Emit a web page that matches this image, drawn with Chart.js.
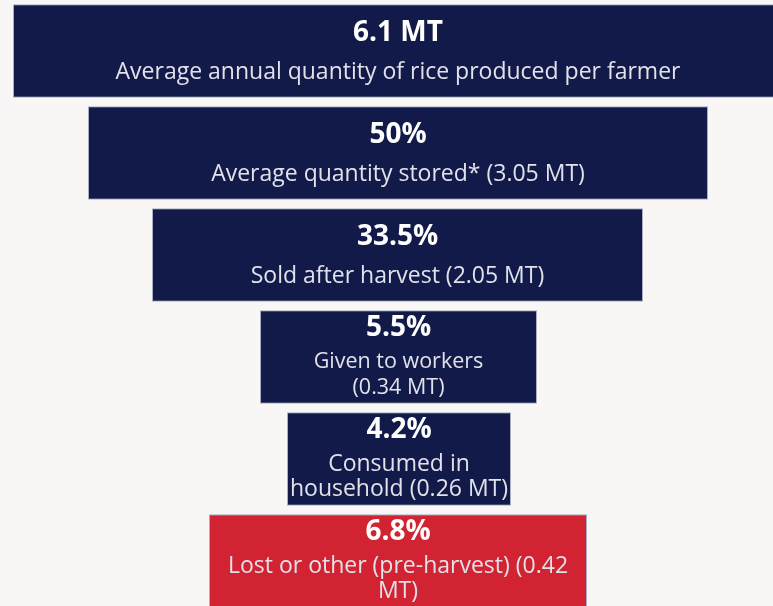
<!DOCTYPE html>
<html>
<head>
<meta charset="utf-8">
<script src="https://cdn.jsdelivr.net/npm/chart.js@4"></script>
<style>
  html, body { margin: 0; padding: 0; background: #f8f7f5; overflow: hidden; }
  #wrap { position: relative; width: 773px; height: 612px; }
</style>
</head>
<body>
<div id="wrap"><canvas id="funnelChart"></canvas></div>
<script>
// Stufen des Trichters (von oben nach unten)
const stages = ['Produced', 'Stored', 'Sold', 'Workers', 'Household', 'Lost'];
const headlines = ['6.1 MT', '50%', '33.5%', '5.5%', '4.2%', '6.8%'];
const descriptions = [
    ['Average annual quantity of rice produced per farmer'],
    ['Average quantity stored* (3.05 MT)'],
    ['Sold after harvest (2.05 MT)'],
    ['Given to workers', '(0.34 MT)'],
    ['Consumed in', 'household (0.26 MT)'],
    ['Lost or other (pre-harvest) (0.42', 'MT)']
];
// Balkenbreite links/rechts
const barStart = [13, 88, 152, 260, 287, 209];
const barEnd = [783, 708, 643, 537, 511, 587];
const barColors = ['#121a4a', '#121a4a', '#121a4a', '#121a4a', '#121a4a', '#d12331'];

// Texte in die Balken schreiben
const labelPlugin = {
    id: 'funnelLabels',
    afterDatasetsDraw(chart) {
        let ctx = chart.ctx;
        let meta = chart.getDatasetMeta(0);
        ctx.save();
        ctx.textAlign = 'center';
        ctx.textBaseline = 'middle';
        meta.data.forEach((bar, i) => {
            let cx = (bar.x + bar.base) / 2;
            let cy = bar.y;
            let lines = descriptions[i];
            let top = lines.length === 1 ? cy - 18 : cy - 29;
            ctx.fillStyle = '#ffffff';
            ctx.font = 'bold 28px "Open Sans"';
            ctx.fillText(headlines[i], cx, top);
            ctx.fillStyle = '#e2e2ea';
            ctx.font = (i === 3 ? '21.5px' : '23px') + ' "Open Sans"';
            let y = top + (lines.length === 1 ? 39 : 34);
            lines.forEach(l => {
                ctx.fillText(l, cx, y);
                y += 25.5;
            });
        });
        ctx.restore();
    }
};

let ctx = document.getElementById('funnelChart').getContext('2d');
new Chart(ctx, {
    type: 'bar',
    data: {
        labels: stages,
        datasets: [{
            data: stages.map((s, i) => [barStart[i], barEnd[i]]),
            backgroundColor: barColors,
            borderColor: 'rgba(120,125,160,0.6)',
            borderWidth: 1,
            borderSkipped: false,
            barPercentage: 0.915,
            categoryPercentage: 1
        }]
    },
    options: {
        indexAxis: 'y',
        responsive: true,
        maintainAspectRatio: false,
        animation: false,
        layout: { padding: 0 },
        plugins: {
            legend: { display: false },
            tooltip: { enabled: false }
        },
        scales: {
            x: { type: 'linear', min: 0, max: 773, display: false },
            y: { display: false }
        }
    },
    plugins: [labelPlugin]
});
</script>
</body>
</html>
